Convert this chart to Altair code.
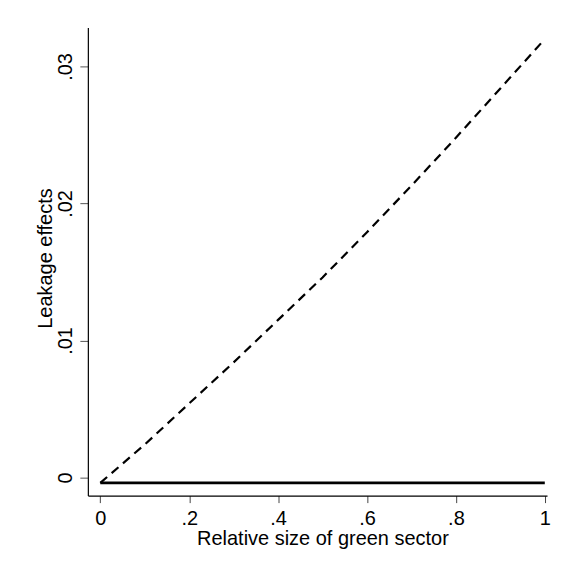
import altair as alt
import pandas as pd

# Data
share = [0.0, 0.1, 0.2, 0.3, 0.4, 0.5, 0.6, 0.7, 0.8, 0.9, 1.0]
leak_dashed = [-0.0004, 0.0024, 0.0054, 0.0084, 0.0115, 0.0146, 0.0179, 0.0213, 0.0248, 0.0284, 0.0320]
solid_x = [0.0, 1.0]
solid_y = [-0.0004, -0.0004]

x_ticks = [0, 0.2, 0.4, 0.6, 0.8, 1.0]
y_ticks = [0, 0.01, 0.02, 0.03]

df_dash = pd.DataFrame({"x": share, "y": leak_dashed})
df_solid = pd.DataFrame({"x": solid_x, "y": solid_y})

FONT = "Liberation Sans"
FS = 20

xscale = alt.Scale(domain=[-0.028, 1.005], nice=False, zero=False)
yscale = alt.Scale(domain=[-0.00133, 0.03285], nice=False, zero=False)

xaxis = alt.Axis(
    values=x_ticks,
    title="Relative size of green sector",
    labelExpr="datum.value == 0 ? '0' : (datum.value == 1 ? '1' : replace(format(datum.value, '.1f'), '0.', '.'))",
    grid=False,
    domainColor="black",
    domainWidth=1.2,
    tickColor="#444444",
    tickSize=7,
    tickWidth=1,
    labelFont=FONT,
    labelFontSize=FS,
    labelColor="black",
    labelPadding=6,
    titleFont=FONT,
    titleFontSize=FS,
    titleFontWeight="normal",
    titleColor="black",
    titleBaseline="alphabetic",
    titleAlign="center",
    titleX=235,
    titleY=49,
)

yaxis = alt.Axis(
    values=y_ticks,
    title="Leakage effects",
    labelExpr="datum.value == 0 ? '0' : replace(format(datum.value, '.2f'), '0.', '.')",
    grid=False,
    domainColor="black",
    domainWidth=1.2,
    tickColor="#555555",
    tickSize=8,
    tickWidth=1,
    labelFont=FONT,
    labelFontSize=FS,
    labelColor="black",
    labelAngle=270,
    labelAlign="center",
    labelBaseline="bottom",
    labelPadding=4,
    titleFont=FONT,
    titleFontSize=FS,
    titleFontWeight="normal",
    titleColor="black",
    titleAngle=270,
    titleBaseline="alphabetic",
    titleAlign="center",
    titleX=-36,
    titleY=231,
)

dashed = alt.Chart(df_dash).mark_line(
    color="black", strokeWidth=2.2, strokeDash=[9, 6]
).encode(
    x=alt.X("x:Q", scale=xscale, axis=xaxis),
    y=alt.Y("y:Q", scale=yscale, axis=yaxis),
)

solid = alt.Chart(df_solid).mark_line(
    color="black", strokeWidth=2.6
).encode(
    x=alt.X("x:Q", scale=xscale),
    y=alt.Y("y:Q", scale=yscale),
)

chart = alt.layer(dashed, solid).properties(
    width=460,
    height=469,
    autosize=alt.AutoSizeParams(type="none"),
    padding={"left": 80, "top": 19, "right": 10, "bottom": 62},
    background="white",
).configure_view(
    stroke=None
)

chart.save("out.html", embed_options={"renderer": "svg", "actions": False})
